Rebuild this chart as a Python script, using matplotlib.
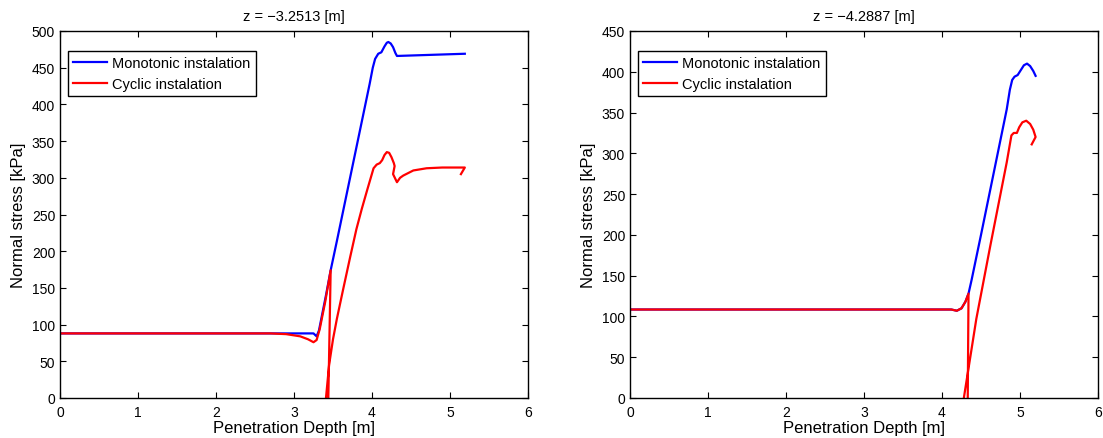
"""Normal stress vs penetration depth, monotonic vs cyclic installation."""

import matplotlib

matplotlib.use("Agg")
import matplotlib.pyplot as plt

plt.rcParams["font.family"] = ["Liberation Sans", "DejaVu Sans"]

# ── Left panel: z = -3.2513 m ────────────────────────────────────────────────
left_mono_x = [0.0, 3.25, 3.29, 3.32, 3.35, 3.41, 3.47, 3.55, 3.76, 3.97, 4.01,
               4.04, 4.08, 4.12, 4.16, 4.19, 4.21, 4.24, 4.27, 4.30, 4.32, 5.19]
left_mono_y = [88, 88, 84, 92, 108, 140, 174, 214, 321, 428, 450,
               462, 469, 471, 479, 484, 485, 483, 478, 470, 466, 469]

left_cyc_x = [0.0, 2.7, 2.9, 3.08, 3.18, 3.25, 3.29, 3.33, 3.40, 3.47, 3.44,
              3.435, 3.405, 3.41, 3.45, 3.50, 3.55, 3.63, 3.72, 3.80, 3.87,
              3.94, 4.02, 4.06, 4.10, 4.13, 4.16, 4.19, 4.22, 4.25, 4.28, 4.29,
              4.27, 4.32, 4.36, 4.40, 4.53, 4.70, 4.90, 5.19, 5.14]
left_cyc_y = [88, 88, 87, 84, 80, 76, 79, 94, 131, 174, 0,
              -40, -8, 0, 45, 80, 108, 148, 192, 230, 258,
              284, 313, 318, 320, 324, 331, 335, 334, 328, 320, 316,
              305, 294, 300, 303, 310, 313, 314, 314, 305]

# ── Right panel: z = -4.2887 m ───────────────────────────────────────────────
right_mono_x = [0.0, 4.12, 4.19, 4.25, 4.30, 4.34, 4.38, 4.43, 4.50, 4.62, 4.83,
                4.87, 4.90, 4.93, 4.97, 5.01, 5.05, 5.09, 5.13, 5.17, 5.20]
right_mono_y = [108.5, 108.5, 107, 110, 118, 128, 145, 168, 200, 256, 354,
                378, 390, 394, 396, 402, 408, 410, 407, 401, 395]

right_cyc_x = [0.0, 4.12, 4.19, 4.25, 4.30, 4.34, 4.33, 4.325, 4.265, 4.28,
               4.44, 4.62, 4.83, 4.89, 4.92, 4.96, 4.99, 5.03, 5.08, 5.13,
               5.17, 5.20, 5.15]
right_cyc_y = [108.5, 108.5, 107, 110, 118, 128, 0, -40, -15, 0,
               97, 187, 289, 322, 325, 325, 332, 338, 340, 336,
               329, 320, 311]

titles = ["z = \u22123.2513 [m]", "z = \u22124.2887 [m]"]
ylims = [500, 450]
xticks = [0, 1, 2, 3, 4, 5, 6]

panels = [
    (left_mono_x, left_mono_y, left_cyc_x, left_cyc_y),
    (right_mono_x, right_mono_y, right_cyc_x, right_cyc_y),
]

fig = plt.figure(figsize=(11.03, 4.39), dpi=100)
ax_w, ax_h = 468 / 1103, 367 / 439
positions = [
    [60 / 1103, 1 - 399 / 439, ax_w, ax_h],
    [630 / 1103, 1 - 399 / 439, ax_w, ax_h],
]

for pos, (mx, my, cx, cy), title, ytop in zip(positions, panels, titles, ylims):
    ax = fig.add_axes(pos)
    ax.plot(mx, my, color="#0000ff", lw=1.6, label="Monotonic instalation")
    ax.plot(cx, cy, color="#ff0000", lw=1.6, label="Cyclic instalation")

    ax.set_xlim(0, 6)
    ax.set_ylim(0, ytop)
    ax.set_xticks(xticks)
    ax.set_yticks(range(0, ytop + 1, 50))
    ax.tick_params(direction="in", length=4, width=0.8, top=True, right=True,
                   labelsize=10, colors="black")
    ax.tick_params(axis="x", pad=5)
    for sp in ax.spines.values():
        sp.set_linewidth(1.0)

    ax.set_xlabel("Penetration Depth [m]", fontsize=12, labelpad=1)
    ax.set_ylabel("Normal stress [kPa]", fontsize=12, labelpad=4)
    ax.set_title(title, fontsize=10.5, pad=8)

    # legend box sits ~8 px right of and ~20 px below the axes corner
    leg = ax.legend(loc="upper left", bbox_to_anchor=(8 / 468, 1 - 20 / 367),
                    borderaxespad=0, fontsize=10.5, fancybox=False,
                    framealpha=1, edgecolor="black", handlelength=2.3,
                    handletextpad=0.4, borderpad=0.35, labelspacing=0.45)
    leg.get_frame().set_linewidth(1.0)

fig.savefig("out.png", dpi=100, facecolor="white")
